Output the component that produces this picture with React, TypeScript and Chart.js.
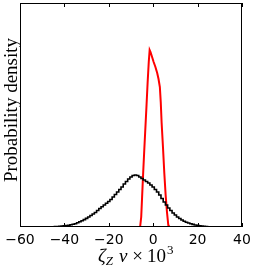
import React, { useEffect, useRef } from "react";
import { Chart, registerables } from "chart.js";

Chart.register(...registerables);

// Black histogram (bin centres, density)
const blackX = [
  -50, -49, -48, -47, -46, -45, -44, -43, -42, -41, -40, -39, -38, -37, -36, -35, -34, -33, -32, -31,
  -30, -29, -28, -27, -26, -25, -24, -23, -22, -21, -20, -19, -18, -17, -16, -15, -14, -13, -12, -11,
  -10, -9, -8, -7, -6, -5, -4, -3, -2, -1, 0, 1, 2, 3, 4, 5, 6, 7, 8, 9,
  10, 11, 12, 13, 14, 15, 16, 17, 18, 19, 20, 21, 22, 23, 24, 25, 26, 27, 28, 29, 30,
];
const blackY = [
  0, 0, 0.1, 0.1, 0.2, 0.3, 0.4, 0.5, 0.7, 0.9, 1.1, 1.4, 1.8, 2.2, 2.7, 3.3, 4.2, 5.2, 6.3, 7.4,
  8.6, 10, 11.5, 13, 14.5, 16.5, 18.5, 20.3, 22, 23.7, 25.5, 27.5, 30, 32.5, 35, 37.5, 40, 43, 45.5, 48,
  50, 51.5, 52, 51.5, 50, 48.5, 47, 45.5, 44, 42, 40, 37.5, 35, 32, 28.5, 25, 22, 19, 16.5, 14,
  12, 10, 8.5, 7, 5.8, 4.8, 4, 3.2, 2.6, 2, 1.6, 1.2, 0.9, 0.6, 0.4, 0.2, 0.1, 0, 0, 0, 0,
].map((v) => v / 1000);

// Red curve
const redX = [
  -5.9, -5.4, -5.0, -4.5, -4.0, -3.5, -3.0, -2.5, -2.0, -1.6, -1.2, -0.5, 0.2, 1.0, 1.8, 2.4, 3.0, 3.4,
  3.8, 4.4, 5.0, 5.6, 6.2, 6.8, 7.0,
];
const redY = [
  0, 10, 30, 55, 78, 100, 122, 145, 165, 177, 175, 170, 165, 160, 154, 148, 140, 125,
  104, 80, 54, 32, 15, 2, 0,
].map((v) => v / 1000);

const xTicks = [-60, -40, -20, 0, 20, 40];
const X_MIN = -60;
const X_MAX = 40;
const Y_MAX = 0.224;

const framePlugin = {
  id: "frame",
  afterDraw(chart: any) {
    const ctx = chart.ctx;
    const { left, right, top, bottom } = chart.chartArea;
    const xs = chart.scales.x;
    ctx.save();
    ctx.strokeStyle = "#000";
    ctx.lineWidth = 1;
    ctx.strokeRect(Math.round(left) + 0.5, Math.round(top) + 0.5, Math.round(right - left) - 1, Math.round(bottom - top) - 1);
    ctx.beginPath();
    for (const t of xTicks) {
      const px = Math.round(xs.getPixelForValue(t)) + 0.5;
      ctx.moveTo(px, bottom);
      ctx.lineTo(px, bottom - 4);
      ctx.moveTo(px, top);
      ctx.lineTo(px, top + 4);
    }
    ctx.stroke();

    // Y title
    ctx.fillStyle = "#000";
    ctx.font = "19px 'Liberation Serif'";
    ctx.textAlign = "center";
    ctx.textBaseline = "middle";
    ctx.translate(12, 110);
    ctx.rotate(-Math.PI / 2);
    ctx.fillText("Probability density", 0, 0);
    ctx.setTransform(1, 0, 0, 1, 0, 0);

    // X title: ζ_Z v × 10^3
    ctx.textAlign = "left";
    ctx.textBaseline = "alphabetic";
    const base = 262;
    let x = 98;
    const big = "italic 19px 'Liberation Serif'";
    const small = "italic 13px 'Liberation Serif'";
    const upright = "19px 'Liberation Serif'";
    const smallUp = "13px 'Liberation Serif'";
    ctx.font = big;
    ctx.fillText("ζ", x, base);
    x += ctx.measureText("ζ").width;
    ctx.font = small;
    ctx.fillText("Z", x, base + 3);
    x += ctx.measureText("Z").width + 6;
    ctx.font = big;
    ctx.fillText("v", x, base);
    x += ctx.measureText("v").width + 5;
    ctx.font = upright;
    ctx.fillText("×", x, base);
    x += ctx.measureText("×").width + 4;
    ctx.fillText("10", x, base);
    x += ctx.measureText("10").width + 1;
    ctx.font = smallUp;
    ctx.fillText("3", x, base - 8);
    ctx.restore();
  },
};

export default function App() {
  const ref = useRef<HTMLCanvasElement | null>(null);
  useEffect(() => {
    document.body.style.margin = "0";
    const canvas = ref.current!;
    const chart = new Chart(canvas, {
      type: "line",
      data: {
        datasets: [
          {
            data: blackX.map((x, i) => ({ x, y: blackY[i] })),
            borderColor: "#000",
            borderWidth: 1.6,
            pointRadius: 0,
            stepped: "middle",
            fill: false,
          },
          {
            data: redX.map((x, i) => ({ x, y: redY[i] })),
            borderColor: "#ff0000",
            borderWidth: 2,
            pointRadius: 0,
            tension: 0,
            fill: false,
          },
        ],
      },
      options: {
        animation: false,
        responsive: false,
        devicePixelRatio: 1,
        layout: { padding: { left: 20, top: 3, right: 14, bottom: 0 } },
        plugins: { legend: { display: false }, tooltip: { enabled: false } },
        scales: {
          x: {
            type: "linear",
            min: X_MIN,
            max: X_MAX,
            afterBuildTicks: (s: any) => {
              s.ticks = xTicks.map((v) => ({ value: v }));
            },
            afterFit: (s: any) => {
              s.height = 41;
            },
            grid: { display: false, drawTicks: false },
            border: { display: false },
            ticks: {
              color: "#000",
              font: { family: "'DejaVu Sans'", size: 14 },
              padding: 5,
              maxRotation: 0,
              autoSkip: false,
              callback: (v: any) => (Number(v) < 0 ? "\u2212" + Math.abs(Number(v)) : String(v)),
            },
          },
          y: {
            display: false,
            min: 0,
            max: Y_MAX,
          },
        },
      },
      plugins: [framePlugin],
    });
    return () => chart.destroy();
  }, []);
  return <canvas ref={ref} width={256} height={268} style={{ display: "block", width: 256, height: 268 }} />;
}
